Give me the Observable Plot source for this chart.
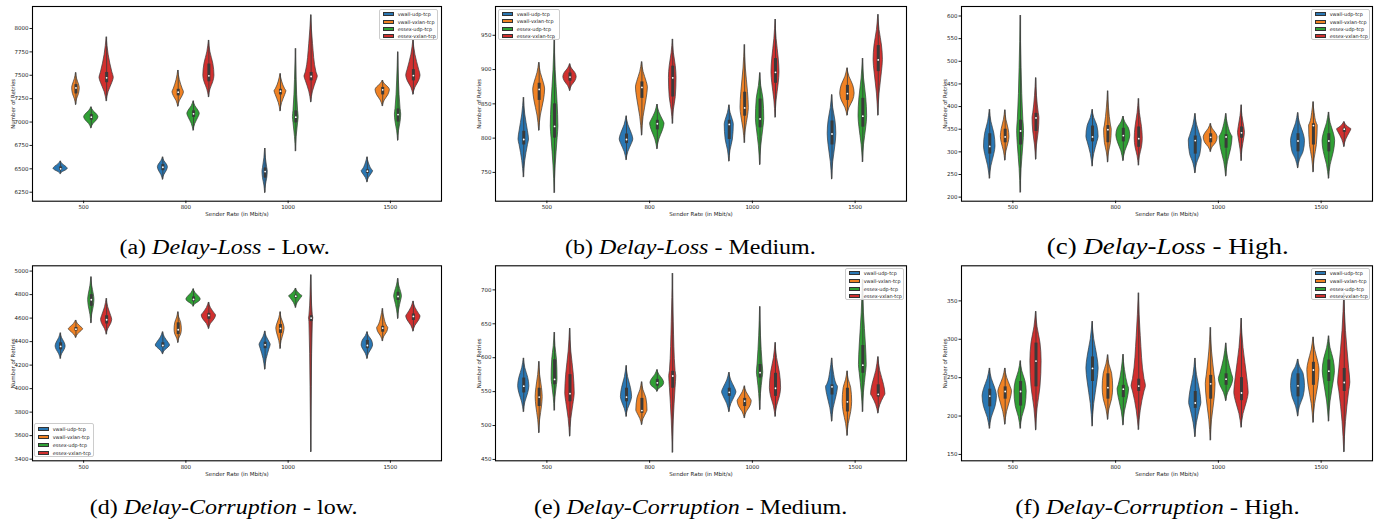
<!DOCTYPE html>
<html><head><meta charset="utf-8">
<script src="https://cdn.jsdelivr.net/npm/d3@7"></script>
<script src="https://cdn.jsdelivr.net/npm/@observablehq/plot@0.6"></script>
<style>
body{margin:0;background:#fff;width:1381px;height:520px;position:relative;overflow:hidden;font-family:"DejaVu Sans",sans-serif;}
.panel{position:absolute;}
.legend{position:absolute;background:rgba(255,255,255,0.85);border:0.6px solid #cccccc;border-radius:2px;box-sizing:border-box;padding-top:0.6px;}
.lrow{display:flex;align-items:center;height:7.35px;font-size:4.9px;color:#222;white-space:nowrap;}
.patch{display:inline-block;width:11px;height:4px;box-sizing:border-box;border:0.5px solid #333;margin-left:2.7px;margin-right:4px;}
.caption{position:absolute;width:400px;text-align:center;font-family:"Liberation Serif","Times New Roman",serif;font-size:20px;line-height:20px;color:#000;}
.caption span.c{display:inline-block;transform:scaleX(1.2);white-space:nowrap;}
</style></head>
<body>
<script>
// ---------- categories ----------
const hues = ["vwall-udp-tcp", "vwall-vxlan-tcp", "essex-udp-tcp", "essex-vxlan-tcp"];
const colors = ["#2a77b3", "#f08224", "#30a035", "#d1302f"];
const rates = ["500", "800", "1000", "1500"];

// ---------- violin values: [low tip, q1, median, q3, high tip, relative width] ----------
// order: per sender rate, hues in order above
const lowLoss = [
  [6445,6485,6500,6520,6580,1.0],[7184,7300,7365,7400,7526,0.53],[6934,7020,7052,7080,7159,1.0],[7223,7420,7473,7530,7907,1.0],
  [6385,6480,6517,6545,6624,0.7],[7166,7280,7319,7350,7551,0.8],[6909,7050,7088,7120,7223,0.87],[7266,7430,7494,7620,7872,0.78],
  [6243,6400,6471,6510,6717,0.37],[7116,7290,7330,7350,7515,0.83],[6688,6990,7052,7120,7783,0.4],[7212,7440,7487,7530,8143,0.93],
  [6357,6450,6475,6490,6624,0.8],[7170,7290,7344,7370,7444,1.0],[6802,7000,7080,7140,7747,0.44],[7294,7440,7497,7560,7879,1.0]
];
const mediumLoss = [
  [743,790,798,810,859,0.73],[811,855,871,880,910,0.83],[720,800,817,850,948,0.53],[869,883,889,895,908,0.93],
  [768,792,798,806,832,0.95],[804,858,874,882,911,0.83],[784,812,821,826,849,1.0],[821,860,888,905,944,0.53],
  [766,798,820,826,848,0.63],[793,832,844,867,936,0.58],[761,815,828,857,895,0.58],[830,880,896,916,973,0.56],
  [740,790,806,825,863,0.6],[833,855,865,877,902,1.0],[765,816,832,858,916,0.6],[833,897,914,935,980,0.65]
];
const highLoss = [
  [241,295,312,340,393,0.8],[281,320,333,350,392,0.6],[210,315,346,370,601,0.48],[283,345,375,385,463,0.48],
  [268,322,333,357,393,0.85],[277,320,349,358,434,0.53],[280,322,336,352,378,0.97],[270,310,329,355,417,0.56],
  [253,295,325,335,384,0.9],[300,320,332,340,362,0.97],[246,308,333,338,384,0.9],[280,330,342,355,403,0.48],
  [264,300,324,340,386,0.97],[255,315,358,362,410,0.6],[241,300,324,340,387,0.88],[311,343,350,352,366,1.0]
];
const lowCorruption = [
  [4254,4330,4359,4390,4472,0.7],[4433,4490,4506,4520,4580,1.0],[4557,4700,4756,4800,4949,0.44],[4461,4550,4586,4620,4765,0.78],
  [4294,4350,4367,4390,4481,1.0],[4390,4460,4501,4560,4651,0.51],[4699,4740,4759,4780,4847,1.0],[4509,4590,4623,4640,4733,1.0],
  [4163,4340,4373,4395,4487,0.78],[4339,4470,4512,4545,4651,0.58],[4688,4770,4787,4795,4852,0.93],[3460,4570,4600,4620,4966,0.3],
  [4254,4340,4367,4410,4481,0.8],[4404,4480,4515,4530,4679,0.78],[4594,4750,4784,4820,4935,0.54],[4487,4580,4614,4635,4742,1.0]
];
const mediumCorruption = [
  [520,548,558,570,599,0.78],[489,528,542,555,594,0.49],[522,560,568,597,637,0.41],[484,535,547,575,643,0.66],
  [513,535,542,555,588,0.78],[501,518,522,540,564,0.78],[550,558,563,568,582,0.95],[460,555,573,580,724,0.49],
  [520,543,549,555,578,1.0],[511,528,536,540,558,0.98],[523,570,578,590,675,0.44],[513,543,555,577,622,0.78],
  [506,545,557,560,599,0.83],[485,520,535,555,580,0.66],[520,577,589,618,715,0.54],[518,542,546,560,601,1.0]
];
const highCorruption = [
  [183.6,212,226,235,262,1.0],[189,222,232,238,262,0.95],[183.6,213,232,245,271.6,0.85],[181.5,238,271.6,295,336,0.78],
  [186.6,245,262,277,323,0.85],[195.3,222,237,255,279.4,0.73],[188,224,235,240,280,0.8],[182,232,239,248,360,1.0],
  [172.7,210,217,232,275,0.85],[168.3,222,242,253,315,0.68],[219.7,240,248,255,294.7,1.0],[185,220,230,250,327,1.0],
  [199.7,225,239.3,255,273.7,0.97],[191.4,240,260,270,302.5,0.85],[193,245,258.5,273,304,0.85],[153,232,243.7,262,360,0.85]
];

// ---------- tick labels ----------
const ticksLowLoss = [6250,6500,6750,7000,7250,7500,7750,8000];
const ticksMediumLoss = [750,800,850,900,950];
const ticksHighLoss = [200,250,300,350,400,450,500,550,600];
const ticksLowCorruption = [3400,3600,3800,4000,4200,4400,4600,4800,5000];
const ticksMediumCorruption = [450,500,550,600,650,700];
const ticksHighCorruption = [150,200,250,300,350];

// ---------- captions ----------
const captions = [
  ["(a) ", "Delay-Loss", " - Low."],
  ["(b) ", "Delay-Loss", " - Medium."],
  ["(c) ", "Delay-Loss", " - High."],
  ["(d) ", "Delay-Corruption", " - low."],
  ["(e) ", "Delay-Corruption", " - Medium."],
  ["(f) ", "Delay-Corruption", " - High."]
];

// ---------- layout ----------
const dodge = [-0.225, -0.075, 0.075, 0.225];
const halfMax = 0.07;
// violin outline template: [position between tip and quartile, relative half-width]
const layout = [
  {rows: lowLoss, ticks: ticksLowLoss, left: 0, top: 0, width: 460, ml: 32, mr: 19, mt: 6, mb: 27.3, y: [6154, 8235], lo: 21, legend: [379, 9, 59, 31], cx: 225, ct: 237, cs: 20},
  {rows: mediumLoss, ticks: ticksMediumLoss, left: 460, top: 0, width: 460, ml: 35, mr: 14, mt: 6, mb: 27.3, y: [708, 992], lo: 18, legend: [38, 9, 62, 30.5], cx: 230.5, ct: 237, cs: 20},
  {rows: highLoss, ticks: ticksHighLoss, left: 920, top: 0, width: 461, ml: 41, mr: 9, mt: 6, mb: 27.3, y: [191, 621], lo: 18, legend: [391, 9, 59, 31], cx: 247.5, ct: 236.5, cs: 22.4},
  {rows: lowCorruption, ticks: ticksLowCorruption, left: 0, top: 260, width: 460, ml: 32, mr: 19, mt: 5.3, mb: 27.7, y: [3386, 5045], lo: 21, legend: [34, 163, 60, 34], cx: 224, ct: 497, cs: 20},
  {rows: mediumCorruption, ticks: ticksMediumCorruption, left: 460, top: 260, width: 460, ml: 35, mr: 14, mt: 5.3, mb: 27.7, y: [448, 735.5], lo: 18, legend: [385, 8, 59, 32], cx: 230.5, ct: 497, cs: 20},
  {rows: highCorruption, ticks: ticksHighCorruption, left: 920, top: 260, width: 461, ml: 41, mr: 9, mt: 5.3, mb: 27.7, y: [141.7, 395.7], lo: 18, legend: [391, 8, 59, 32], cx: 237.5, ct: 497, cs: 20.5}
];

const edge = "#3a3a3a";

layout.forEach((p, pi) => {
  const stats = p.rows.map((r, k) => {
    const ri = Math.floor(k / 4), h = k % 4;
    return {id: k, hue: hues[h], cx: ri + dodge[h], lo: r[0], q1: r[1], med: r[2], q3: r[3], hi: r[4], w: r[5]};
  });
  const pts = [];
  stats.forEach(s => {
    const hw = s.w * halfMax;
    const outline = [
      [s.lo, 0], [(s.lo + s.q1) / 2, 0.28], [s.q1, 0.8], [s.med, 1],
      [s.q3, 0.8], [(s.q3 + s.hi) / 2, 0.28], [s.hi, 0]
    ];
    outline.forEach(([y, f]) =>
      pts.push({id: s.id, hue: s.hue, y, xl: s.cx - hw * f, xr: s.cx + hw * f}));
  });

  const chart = Plot.plot({
    width: p.width, height: 228,
    marginLeft: p.ml, marginRight: p.mr, marginTop: p.mt, marginBottom: p.mb,
    style: {fontSize: "5.5px", fontFamily: "DejaVu Sans", color: "#222", background: "transparent", overflow: "visible"},
    x: {domain: [-0.5, 3.5]},
    y: {domain: p.y},
    color: {domain: hues, range: colors},
    marks: [
      Plot.areaX(pts, {y: "y", x1: "xl", x2: "xr", z: "id", fill: "hue", stroke: edge, strokeWidth: 0.7, curve: "monotone-y"}),
      Plot.ruleX(stats, {x: "cx", y1: "lo", y2: "hi", stroke: edge, strokeWidth: 0.8}),
      Plot.ruleX(stats, {x: "cx", y1: "q1", y2: "q3", stroke: edge, strokeWidth: 3}),
      Plot.dot(stats, {x: "cx", y: "med", r: 0.9, fill: "white"}),
      Plot.axisX({ticks: [0, 1, 2, 3], tickFormat: i => rates[i], tickSize: 2.5, tickPadding: 1.5,
        label: "Sender Rate (in Mbit/s)", labelAnchor: "center", labelArrow: "none", labelOffset: 15}),
      Plot.axisY({ticks: p.ticks, tickFormat: "d", tickSize: 2.5, tickPadding: 1.5,
        label: "Number of Retries", labelAnchor: "center", labelArrow: "none", labelOffset: p.lo}),
      Plot.frame({stroke: "#000", strokeWidth: 1.1})
    ]
  });

  const div = document.createElement("div");
  div.className = "panel";
  div.style.left = p.left + "px";
  div.style.top = p.top + "px";
  div.style.width = p.width + "px";
  div.style.height = "228px";
  div.appendChild(chart);

  const lg = document.createElement("div");
  lg.className = "legend";
  lg.style.left = p.legend[0] + "px";
  lg.style.top = p.legend[1] + "px";
  lg.style.width = p.legend[2] + "px";
  lg.style.height = p.legend[3] + "px";
  hues.forEach((h, i) => {
    const row = document.createElement("div");
    row.className = "lrow";
    row.style.height = ((p.legend[3] - 1.6) / 4) + "px";
    const sw = document.createElement("span");
    sw.className = "patch";
    sw.style.background = colors[i];
    row.appendChild(sw);
    row.appendChild(document.createTextNode(h));
    lg.appendChild(row);
  });
  div.appendChild(lg);
  document.body.appendChild(div);

  const cap = document.createElement("div");
  cap.className = "caption";
  cap.style.left = (p.left + p.cx - 200) + "px";
  cap.style.top = p.ct + "px";
  cap.style.fontSize = p.cs + "px";
  const c = captions[pi];
  const inner = document.createElement("span");
  inner.className = "c";
  inner.appendChild(document.createTextNode(c[0]));
  const it = document.createElement("i");
  it.textContent = c[1];
  inner.appendChild(it);
  inner.appendChild(document.createTextNode(c[2]));
  cap.appendChild(inner);
  document.body.appendChild(cap);
});
</script>
</body></html>
